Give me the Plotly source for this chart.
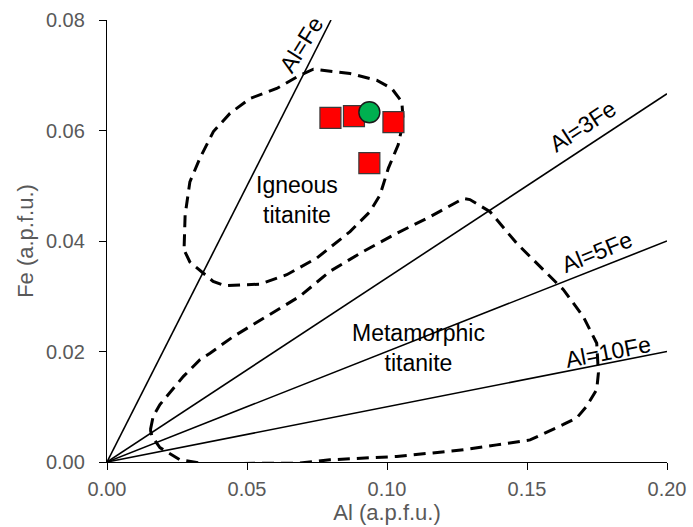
import plotly.graph_objects as go

# ---- data ----
sample_al = [0.0798, 0.0882, 0.1023, 0.0937]
sample_fe = [0.0623, 0.0626, 0.0615, 0.0541]
ref_al = [0.0937]
ref_fe = [0.0633]

ratios = [1, 3, 5, 10]
ratio_labels = ["Al=Fe", "Al=3Fe", "Al=5Fe", "Al=10Fe"]
label_al = [0.0696, 0.1701, 0.1749, 0.1789]
label_fe = [0.0756, 0.0608, 0.0381, 0.0199]
label_angle = [-58, -33, -22, -11]

igneous_al = [0.0279, 0.0296, 0.0379, 0.0421, 0.0546, 0.0642, 0.0749, 0.0868, 0.0939,
              0.0975, 0.1005, 0.1040, 0.1058, 0.1053, 0.1017, 0.0963, 0.0868, 0.0737,
              0.0689, 0.0606, 0.0511, 0.0439, 0.0380, 0.0332, 0.0296, 0.0279, 0.0275]
igneous_fe = [0.0380, 0.0362, 0.0327, 0.0319, 0.0322, 0.0339, 0.0369, 0.0417, 0.0453,
              0.0483, 0.0532, 0.0574, 0.0616, 0.0652, 0.0676, 0.0691, 0.0703, 0.0711,
              0.0700, 0.0676, 0.0658, 0.0631, 0.0598, 0.0550, 0.0507, 0.0447, 0.0381]

meta_al = [0.0155, 0.0165, 0.0189, 0.0213, 0.0273, 0.0332, 0.0368, 0.0451, 0.0570,
           0.0689, 0.0796, 0.0915, 0.1035, 0.1154, 0.1273, 0.1296, 0.1368, 0.1463,
           0.1558, 0.1630, 0.1701, 0.1749, 0.1755, 0.1749, 0.1713, 0.1678, 0.1630,
           0.1511, 0.1392, 0.1273, 0.1035, 0.0796, 0.0689, 0.0343, 0.0261, 0.0189,
           0.0161, 0.0155]
meta_fe = [0.0058, 0.0083, 0.0104, 0.0119, 0.0155, 0.0185, 0.0197, 0.0227, 0.0263,
           0.0300, 0.0345, 0.0381, 0.0414, 0.0444, 0.0477, 0.0475, 0.0453, 0.0396,
           0.0348, 0.0312, 0.0263, 0.0215, 0.0161, 0.0131, 0.0101, 0.0080, 0.0068,
           0.0040, 0.0031, 0.0022, 0.0010, 0.0004, -0.0002, -0.0003, 0.0004, 0.0026,
           0.0046, 0.0058]

field_labels = ["Igneous<br>titanite", "Metamorphic<br>titanite"]
field_label_al = [0.0679, 0.1111]
field_label_fe = [0.0474, 0.0207]

x_max, y_max = 0.20, 0.08

FONT = "Liberation Sans, Arial, sans-serif"
fig = go.Figure()

# ratio lines
for r in ratios:
    xe = min(x_max, y_max * r)
    fig.add_trace(go.Scatter(x=[0, xe], y=[0, xe / r], mode="lines",
                             line=dict(color="black", width=1.6),
                             hoverinfo="skip", showlegend=False))

# fields
for xs, ys in [(igneous_al, igneous_fe), (meta_al, meta_fe)]:
    fig.add_trace(go.Scatter(x=xs, y=ys, mode="lines",
                             line=dict(color="black", width=3, dash="12px,7px"),
                             hoverinfo="skip", showlegend=False))

# samples
fig.add_trace(go.Scatter(x=sample_al, y=sample_fe, mode="markers",
                         marker=dict(symbol="square", size=21, color="#FF0000",
                                     line=dict(color="#3a3a3a", width=1.2)),
                         showlegend=False))
fig.add_trace(go.Scatter(x=ref_al, y=ref_fe, mode="markers",
                         marker=dict(symbol="circle", size=21, color="#00B050",
                                     line=dict(color="#1a1a1a", width=1.4)),
                         showlegend=False))

for t, x, y, a in zip(ratio_labels, label_al, label_fe, label_angle):
    fig.add_annotation(x=x, y=y, text=t, textangle=a, showarrow=False,
                       font=dict(family=FONT, size=23, color="black"))
for t, x, y in zip(field_labels, field_label_al, field_label_fe):
    fig.add_annotation(x=x, y=y, text=t, showarrow=False,
                       font=dict(family=FONT, size=23, color="black"))

axis_common = dict(showgrid=False, zeroline=False, showline=True, linecolor="black",
                   linewidth=1.3, ticks="outside", ticklen=7, tickcolor="black",
                   tickwidth=1.3, tickformat=".2f", automargin=False,
                   tickfont=dict(family=FONT, size=20, color="#595959"))

fig.update_xaxes(range=[0, x_max], dtick=0.05, ticklabelstandoff=2,
                 title=dict(text="Al (a.p.f.u.)", standoff=0,
                            font=dict(family=FONT, size=22, color="#595959")),
                 **axis_common)
fig.update_yaxes(range=[0, y_max], dtick=0.02, ticklabelstandoff=10,
                 title=dict(text="Fe (a.p.f.u.)", standoff=6,
                            font=dict(family=FONT, size=22, color="#595959")),
                 **axis_common)

fig.update_layout(width=693, height=527,
                  margin=dict(l=107, r=26, t=20, b=65),
                  paper_bgcolor="white", plot_bgcolor="white")

fig.write_html("out.html")
